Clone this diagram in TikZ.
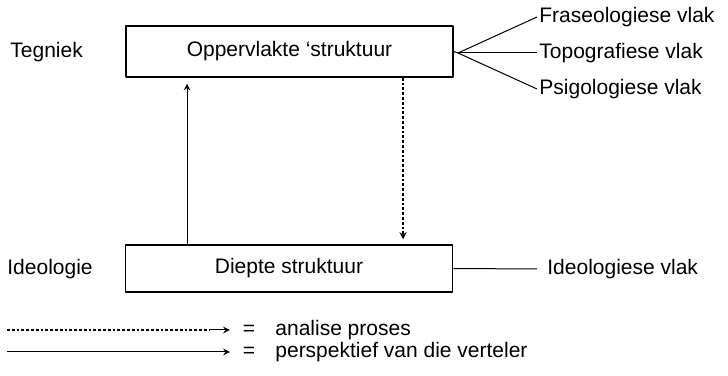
\documentclass[tikz,border=0pt]{standalone}
\usepackage{fontspec}
\setmainfont{Liberation Sans}
\usetikzlibrary{positioning}
\tikzset{
  struktuur/.style={draw, line width=.75pt, minimum width=163.5pt, inner sep=0pt},
  vlak/.style={inner sep=1pt, anchor=west},
  analise/.style={line width=.6pt, dash pattern=on 1.4pt off 1pt},
  perspektief/.style={line width=.5pt},
}
\begin{document}
\begin{tikzpicture}[x=.5pt, y=.5pt, font=\fontsize{10.5}{12.6}\selectfont, line join=round, >=stealth]
                \useasboundingbox (0,0) rectangle (728,375);
                \node[struktuur, minimum height=25.5pt] (top) at (289.5,323.5) {Oppervlakte `struktuur};
                \node[struktuur, minimum height=23.5pt] (diep) at (289,106.5) {Diepte struktuur};
                \node[anchor=west, inner sep=0pt] (tegniek) at (10,323) {Tegniek};
                \node[anchor=west, inner sep=0pt] (ideologie) at (7,106) {Ideologie};
                % vlakke regs
                \coordinate (fan) at (458,322);
                \node[vlak] (fras) at (537,358) {Fraseologiese vlak};
                \node[vlak] (topo) at (537,322) {Topografiese vlak};
                \node[vlak] (psig) at (537,286) {Psigologiese vlak};
                \draw[perspektief] (top.east) -- (fan);
                \foreach \v in {fras,topo,psig}
                \draw[perspektief] (fan) -- (\v.west);
                \node[vlak, inner sep=0pt] (ideovlak) at (547,106) {Ideologiese vlak};
                \draw[perspektief] (diep.east) -- ([xshift=-5pt]ideovlak.west);
                % pyle tussen die strukture
                \coordinate (opx) at (187,0);
                \coordinate (afx) at (403,0);
                \draw[perspektief, ->] (diep.north -| opx) -- ([yshift=-3pt]top.south -| opx);
                \draw[analise, ->] (top.south -| afx) -- ([yshift=2.5pt]diep.north -| afx);
                % sleutel
                \coordinate (dA) at (7,45);
                \coordinate (dB) at (210,45);
                \coordinate (sA) at (7,23);
                \node (eqA) at (249,45) {=};
                \node (eqB) at (249,23) {=};
                \node[vlak, inner sep=0pt] (anal) at (275,45) {analise proses};
                \node[vlak, inner sep=0pt] (persp) at (275,23) {perspektief van die verteler};
                \draw[analise] (dA) -- (dB);
                \draw[perspektief, ->] (dB) -- ([xshift=-3pt]eqA.west);
                \draw[perspektief, ->] (sA) -- ([xshift=-3pt]eqB.west);
            \end{tikzpicture}
\end{document}
